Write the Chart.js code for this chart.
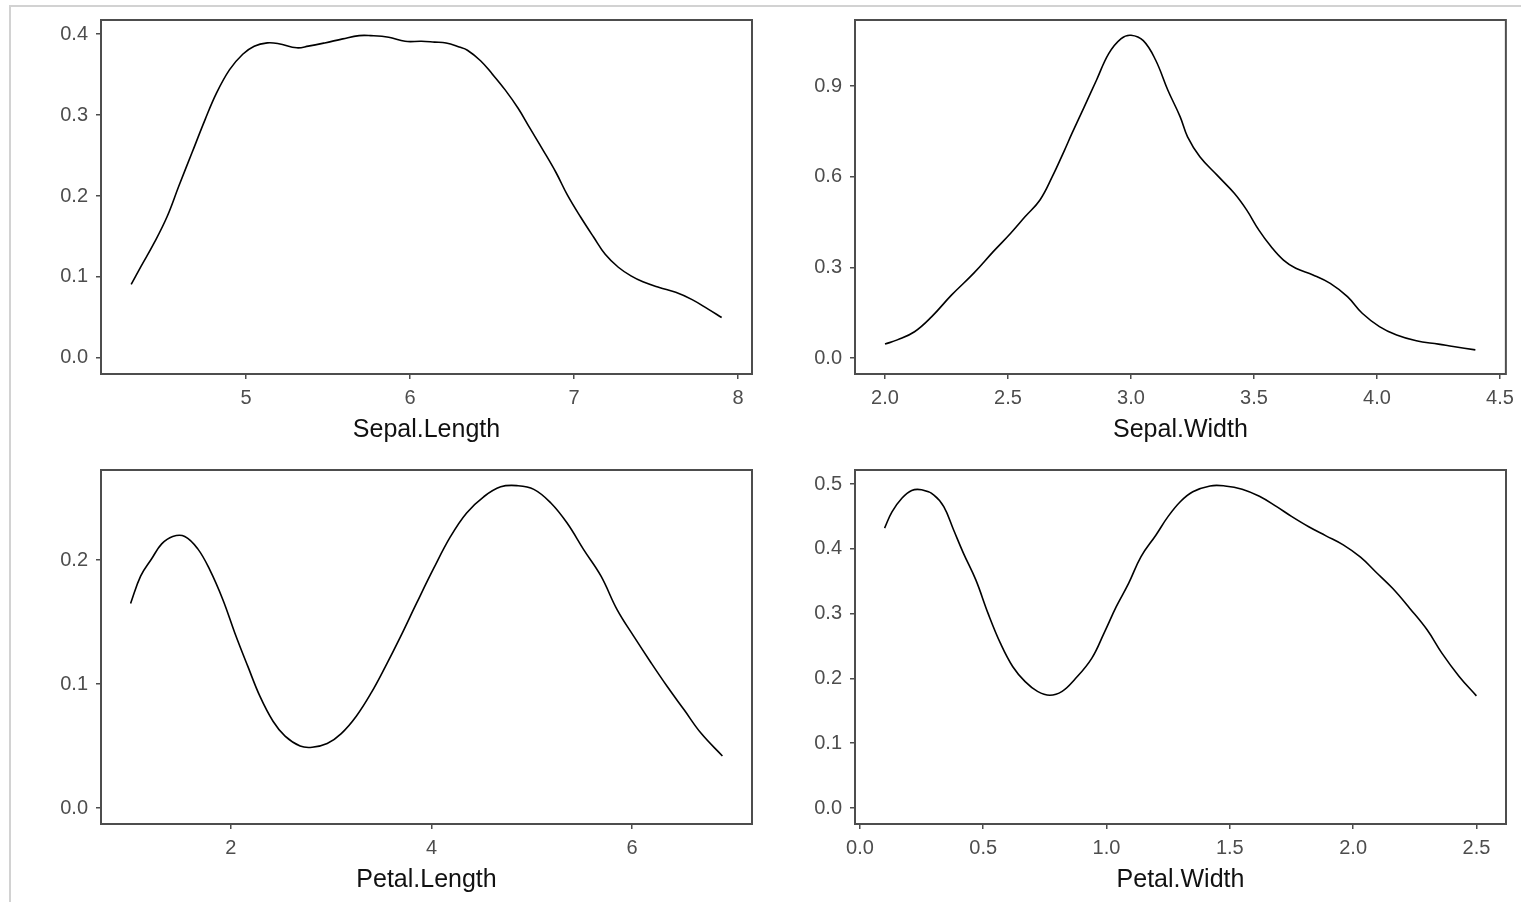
<!DOCTYPE html>
<html>
<head>
<meta charset="utf-8">
<script src="https://cdn.jsdelivr.net/npm/chart.js@4.4.1/dist/chart.umd.min.js"></script>
<style>
  html, body { margin: 0; padding: 0; background: #fff; overflow: hidden; }
  body { width: 1521px; height: 902px; position: relative; }
  #frame { position: absolute; left: 9px; top: 5px; width: 1520px; height: 905px;
           border-left: 2px solid #d2d2d2; border-top: 2px solid #d2d2d2; }
  canvas { position: absolute; }
</style>
</head>
<body>
<div id="frame"></div>
<canvas id="c1" width="740" height="450" style="left:40px;top:0px"></canvas>
<canvas id="c2" width="726" height="450" style="left:795px;top:0px"></canvas>
<canvas id="c3" width="740" height="450" style="left:40px;top:450px"></canvas>
<canvas id="c4" width="726" height="450" style="left:795px;top:450px"></canvas>
<script>
// density curves
const sepalLengthX = [4.30, 4.36, 4.44, 4.52, 4.59, 4.67, 4.75, 4.82, 4.90, 4.98, 5.05, 5.13, 5.20, 5.31, 5.38, 5.48, 5.59, 5.69, 5.76, 5.87, 5.97, 6.07, 6.15, 6.22, 6.30, 6.35, 6.43, 6.50, 6.58, 6.66, 6.73, 6.81, 6.89, 6.96, 7.04, 7.12, 7.19, 7.27, 7.35, 7.42, 7.52, 7.62, 7.72, 7.82, 7.90];
const sepalLengthY = [0.091, 0.113, 0.142, 0.175, 0.212, 0.253, 0.294, 0.327, 0.356, 0.375, 0.385, 0.389, 0.388, 0.383, 0.385, 0.389, 0.394, 0.398, 0.398, 0.396, 0.391, 0.391, 0.390, 0.389, 0.384, 0.380, 0.367, 0.351, 0.331, 0.308, 0.284, 0.257, 0.229, 0.201, 0.174, 0.149, 0.128, 0.112, 0.101, 0.094, 0.087, 0.081, 0.072, 0.060, 0.050];

const sepalWidthX = [2.00, 2.05, 2.12, 2.19, 2.27, 2.36, 2.44, 2.51, 2.57, 2.63, 2.68, 2.73, 2.76, 2.81, 2.86, 2.91, 2.96, 3.00, 3.05, 3.10, 3.15, 3.20, 3.23, 3.28, 3.35, 3.42, 3.47, 3.52, 3.57, 3.62, 3.67, 3.74, 3.81, 3.88, 3.94, 4.01, 4.08, 4.16, 4.25, 4.31, 4.40];
const sepalWidthY = [0.046, 0.060, 0.087, 0.137, 0.208, 0.280, 0.352, 0.412, 0.468, 0.523, 0.600, 0.688, 0.743, 0.831, 0.920, 1.008, 1.057, 1.068, 1.050, 0.986, 0.886, 0.798, 0.732, 0.666, 0.605, 0.545, 0.490, 0.423, 0.368, 0.324, 0.297, 0.275, 0.247, 0.203, 0.148, 0.104, 0.076, 0.057, 0.046, 0.038, 0.027];

const petalLengthX = [1.00, 1.10, 1.21, 1.31, 1.42, 1.54, 1.67, 1.79, 1.92, 2.04, 2.17, 2.29, 2.42, 2.54, 2.69, 2.81, 2.96, 3.10, 3.25, 3.40, 3.54, 3.69, 3.85, 4.02, 4.19, 4.35, 4.52, 4.69, 4.85, 5.02, 5.19, 5.35, 5.52, 5.69, 5.85, 6.02, 6.19, 6.35, 6.52, 6.69, 6.90];
const petalLengthY = [0.165, 0.187, 0.201, 0.213, 0.219, 0.219, 0.209, 0.192, 0.168, 0.141, 0.114, 0.090, 0.070, 0.058, 0.050, 0.049, 0.052, 0.060, 0.074, 0.093, 0.114, 0.138, 0.165, 0.193, 0.219, 0.238, 0.251, 0.259, 0.260, 0.257, 0.246, 0.230, 0.208, 0.187, 0.160, 0.138, 0.117, 0.098, 0.079, 0.060, 0.042];

const petalWidthX = [0.10, 0.13, 0.17, 0.21, 0.25, 0.30, 0.34, 0.38, 0.42, 0.47, 0.52, 0.57, 0.62, 0.67, 0.72, 0.77, 0.82, 0.87, 0.94, 0.99, 1.04, 1.09, 1.14, 1.20, 1.25, 1.30, 1.35, 1.42, 1.48, 1.55, 1.62, 1.69, 1.75, 1.82, 1.89, 1.96, 2.03, 2.09, 2.16, 2.23, 2.30, 2.36, 2.43, 2.50];
const petalWidthY = [0.432, 0.457, 0.478, 0.490, 0.491, 0.483, 0.465, 0.429, 0.393, 0.352, 0.300, 0.254, 0.218, 0.195, 0.180, 0.174, 0.180, 0.198, 0.231, 0.270, 0.311, 0.347, 0.388, 0.421, 0.450, 0.473, 0.488, 0.497, 0.497, 0.492, 0.481, 0.465, 0.450, 0.434, 0.420, 0.406, 0.387, 0.365, 0.339, 0.308, 0.275, 0.239, 0.203, 0.173];

// tick labels
const sepalLengthTicks = [5, 6, 7, 8];
const sepalWidthTicks = [2.0, 2.5, 3.0, 3.5, 4.0, 4.5];
const petalLengthTicks = [2, 4, 6];
const petalWidthTicks = [0.0, 0.5, 1.0, 1.5, 2.0, 2.5];
const sepalLengthYTicks = [0.0, 0.1, 0.2, 0.3, 0.4];
const sepalWidthYTicks = [0.0, 0.3, 0.6, 0.9];
const petalLengthYTicks = [0.0, 0.1, 0.2];
const petalWidthYTicks = [0.0, 0.1, 0.2, 0.3, 0.4, 0.5];

const axisGrey = "#4d4d4d";
const fontFamily = "'Liberation Sans', Arial, sans-serif";

// box around the panel, like ggplot's panel.border
const panelBox = {
    id: "panelBox",
    afterDatasetsDraw(chart) {
        const { ctx, chartArea: a } = chart;
        ctx.save();
        ctx.strokeStyle = axisGrey;
        ctx.lineWidth = 2;
        ctx.strokeRect(a.left, a.top, a.right - a.left, a.bottom - a.top);
        ctx.restore();
    }
};

function makePanel(id, xs, ys, title, xTicks, xMin, xMax, xDigits, yTicks, yMin, yMax, yWidth, padRight) {
    const ctx = document.getElementById(id).getContext("2d");
    const points = xs.map((x, i) => ({ x: x, y: ys[i] }));
    const tickGrid = { drawOnChartArea: false, drawTicks: true, tickLength: 5, tickColor: axisGrey, lineWidth: 1.5 };
    return new Chart(ctx, {
        type: "line",
        data: {
            datasets: [{
                data: points,
                borderColor: "#000",
                borderWidth: 1.6,
                pointRadius: 0,
                fill: false,
                tension: 0.4
            }]
        },
        options: {
            responsive: false,
            animation: false,
            layout: { padding: { top: 10, right: padRight, left: 0, bottom: 0 } },
            plugins: { legend: { display: false }, tooltip: { enabled: false } },
            scales: {
                x: {
                    type: "linear",
                    min: xMin,
                    max: xMax,
                    afterBuildTicks: s => { s.ticks = xTicks.map(v => ({ value: v })); },
                    afterFit: s => { s.height = 76; },
                    grid: tickGrid,
                    border: { display: false },
                    ticks: {
                        autoSkip: false, maxRotation: 0, padding: 7,
                        color: axisGrey, font: { family: fontFamily, size: 20 },
                        callback: v => Number(v).toFixed(xDigits)
                    },
                    title: {
                        display: true, text: title, color: "#111",
                        font: { family: fontFamily, size: 25 },
                        padding: { top: 0, bottom: 5 }
                    }
                },
                y: {
                    min: yMin,
                    max: yMax,
                    afterBuildTicks: s => { s.ticks = yTicks.map(v => ({ value: v })); },
                    afterFit: s => { s.width = yWidth; },
                    grid: tickGrid,
                    border: { display: false },
                    ticks: {
                        autoSkip: false, padding: 8,
                        color: axisGrey, font: { family: fontFamily, size: 20 },
                        callback: v => Number(v).toFixed(1)
                    }
                }
            }
        },
        plugins: [panelBox]
    });
}

makePanel("c1", sepalLengthX, sepalLengthY, "Sepal.Length", sepalLengthTicks, 4.116, 8.085, 0, sepalLengthYTicks, -0.0198, 0.4173, 61, 28);
makePanel("c2", sepalWidthX, sepalWidthY, "Sepal.Width", sepalWidthTicks, 1.878, 4.524, 1, sepalWidthYTicks, -0.0529, 1.1184, 60, 15);
makePanel("c3", petalLengthX, petalLengthY, "Petal.Length", petalLengthTicks, 0.705, 7.195, 0, petalLengthYTicks, -0.0129, 0.2726, 61, 28);
makePanel("c4", petalWidthX, petalWidthY, "Petal.Width", petalWidthTicks, -0.02, 2.62, 1, petalWidthYTicks, -0.0247, 0.5216, 60, 15);
</script>
</body>
</html>
